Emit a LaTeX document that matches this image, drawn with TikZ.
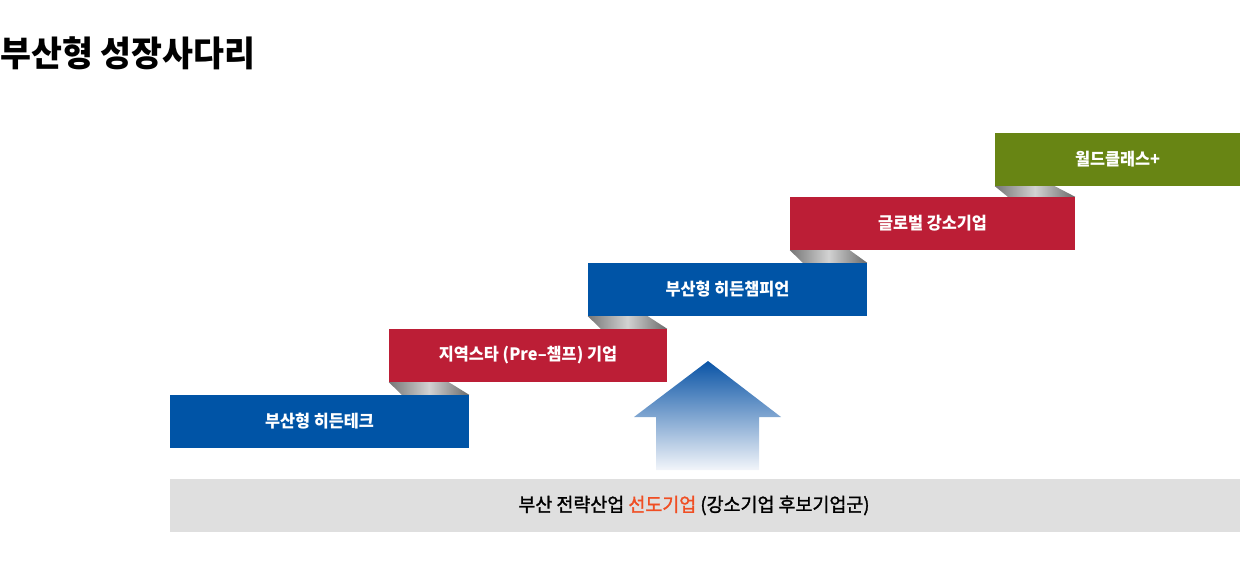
\documentclass[tikz,border=0pt]{standalone}
\usepackage{fontspec}
\usetikzlibrary{calc}
\newfontfamily\krtitle[FakeStretch=0.96]{Noto Sans CJK KR}
\newfontfamily\krbox[FakeStretch=0.96]{Noto Sans CJK KR}
\newfontfamily\krbase[FakeStretch=0.97,FakeBold=1.5]{Noto Sans CJK KR}
\definecolor{stepblue}{HTML}{0054A6}
\definecolor{stepred}{HTML}{BC1E36}
\definecolor{stepgreen}{HTML}{688514}
\definecolor{basegray}{HTML}{DFDFDF}
\definecolor{hiorange}{HTML}{F04E23}
\definecolor{arrowtop}{HTML}{0A54A6}
\definecolor{arrowbot}{HTML}{F2F5FA}
\definecolor{jointdark}{HTML}{767676}
\definecolor{jointlight}{HTML}{D2D2D2}
\definecolor{jointright}{HTML}{6A6A6A}
\tikzset{
  stepbox/.style={inner sep=0pt, minimum height=53pt, text=white,
    font=\krbox\bfseries\fontsize{17}{17}\selectfont},
  joint/.style={left color=jointdark, right color=jointright, middle color=jointlight},
}
\begin{document}
\begin{tikzpicture}[x=1pt,y=-1pt]
\useasboundingbox (0,0) rectangle (1250,560);
\node[anchor=west, inner sep=0pt, font=\krtitle\bfseries\fontsize{35}{35}\selectfont] (title) at (0,53) {부산형 성장사다리};
% base band
\node[fill=basegray, inner sep=0pt, minimum width=1070pt, minimum height=53pt] (base) at (705,505.5) {};
\node[inner sep=0pt, font=\krbase\fontsize{19}{19}\selectfont] (basetext) at ([xshift=-11pt]base.center)
  {부산 전략산업 \textcolor{hiorange}{선도기업} (강소기업 후보기업군)};
% steps
\node[stepbox, fill=stepblue, minimum width=299pt] (s1) at (319.5,421.5) {부산형 히든테크};
\node[stepbox, fill=stepred, minimum width=278pt] (s2) at (528,355.5) {지역스타 (Pre–챔프) 기업};
\node[stepbox, fill=stepblue, minimum width=279pt] (s3) at (727.5,289.5) {부산형 히든챔피언};
\node[stepbox, fill=stepred, minimum width=285pt] (s4) at (932.5,223.5) {글로벌 강소기업};
\node[stepbox, fill=stepgreen, minimum width=245pt] (s5) at (1117.5,159.5) {월드클래스+};
% joints
\foreach \u/\l in {s2/s1, s3/s2, s4/s3, s5/s4}{
  \shade[joint] (\u.south west) -- ([xshift=60pt]\u.south west)
    -- (\l.north east) -- ([xshift=13pt]\u.south west |- \l.north) -- cycle;
}
% arrow
\coordinate (apex) at (708,361);
\shade[top color=arrowtop, bottom color=arrowbot]
  (apex) -- (781,417) -- (759,417) -- (759,470) -- (656,470) -- (656,417) -- (634,417) -- cycle;
\end{tikzpicture}
\end{document}
